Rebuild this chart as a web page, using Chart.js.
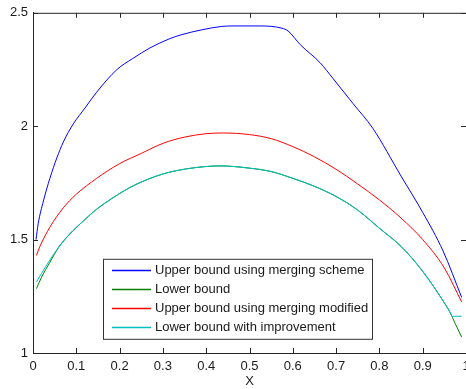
<!DOCTYPE html>
<html>
<head>
<meta charset="utf-8">
<script src="https://cdn.jsdelivr.net/npm/chart.js@4.4.0/dist/chart.umd.min.js"></script>
<style>
  html, body { margin: 0; padding: 0; background: #fff; overflow: hidden; }
  #wrap { width: 466px; height: 389px; overflow: hidden; }
</style>
</head>
<body>
<div id="wrap"><canvas id="boundsChart" width="480" height="389"></canvas></div>
<script>
// valores
const seriesNames = ['Upper bound using merging scheme', 'Lower bound',
    'Upper bound using merging modified', 'Lower bound with improvement'];
const seriesColors = ['#0000ff', '#008000', '#ff0000', '#00bfbf'];

const upperX = [0.007, 0.012, 0.024, 0.039, 0.055, 0.07, 0.093, 0.12, 0.147, 0.194, 0.23, 0.27, 0.316, 0.344, 0.39, 0.436, 0.462, 0.524, 0.575, 0.589, 0.617, 0.663, 0.693, 0.739, 0.785, 0.85, 0.9, 0.947, 0.99];
const upperY = [1.50, 1.57, 1.67, 1.77, 1.86, 1.93, 2.01, 2.08, 2.15, 2.25, 2.298, 2.345, 2.386, 2.404, 2.425, 2.44, 2.442, 2.442, 2.432, 2.42, 2.36, 2.28, 2.21, 2.10, 1.99, 1.78, 1.62, 1.45, 1.245];

const lowerX = [0.008, 0.02, 0.039, 0.06, 0.085, 0.115, 0.147, 0.185, 0.224, 0.26, 0.301, 0.355, 0.432, 0.5, 0.55, 0.6, 0.65, 0.7, 0.75, 0.8, 0.85, 0.9, 0.947, 0.963, 0.975, 0.99];
const lowerY = [1.284, 1.335, 1.40, 1.468, 1.525, 1.58, 1.634, 1.685, 1.73, 1.762, 1.79, 1.812, 1.825, 1.815, 1.80, 1.77, 1.735, 1.69, 1.63, 1.55, 1.47, 1.36, 1.23, 1.18, 1.13, 1.07];

const modifiedX = [0.008, 0.016, 0.039, 0.07, 0.1, 0.147, 0.2, 0.25, 0.301, 0.35, 0.4, 0.44, 0.5, 0.55, 0.6, 0.65, 0.7, 0.75, 0.8, 0.85, 0.9, 0.95, 0.99];
const modifiedY = [1.43, 1.47, 1.555, 1.64, 1.70, 1.77, 1.835, 1.88, 1.925, 1.952, 1.967, 1.97, 1.963, 1.945, 1.91, 1.865, 1.81, 1.745, 1.675, 1.595, 1.50, 1.375, 1.225];

const improvedX = [0.008, 0.02, 0.039, 0.06, 0.085, 0.115, 0.147, 0.185, 0.224, 0.26, 0.301, 0.355, 0.432, 0.5, 0.55, 0.6, 0.65, 0.7, 0.75, 0.8, 0.85, 0.9, 0.947, 0.963, 0.968, 0.99];
const improvedY = [1.313, 1.352, 1.41, 1.468, 1.525, 1.58, 1.634, 1.685, 1.73, 1.762, 1.79, 1.812, 1.825, 1.815, 1.80, 1.77, 1.735, 1.69, 1.63, 1.55, 1.47, 1.36, 1.23, 1.18, 1.162, 1.162];

const xTicks = [0, 0.1, 0.2, 0.3, 0.4, 0.5, 0.6, 0.7, 0.8, 0.9, 1];
const yTicks = [1, 1.5, 2, 2.5];

const toPoints = (xs, ys) => xs.map((x, i) => ({ x: x, y: ys[i] }));
const allSeries = [[upperX, upperY], [lowerX, lowerY], [modifiedX, modifiedY], [improvedX, improvedY]];

const FONT = 'Arial, "Liberation Sans", sans-serif';

// ejes estilo matlab: caja arriba, ticks hacia dentro y leyenda dentro del area
const matlabAxes = {
    id: 'matlabAxes',
    afterDraw(chart) {
        const ctx = chart.ctx;
        const a = chart.chartArea;
        const xs = chart.scales.x, ys = chart.scales.y;
        ctx.save();
        ctx.strokeStyle = '#262626';
        ctx.lineWidth = 1;
        ctx.beginPath();
        ctx.moveTo(a.left, a.top + 0.5); ctx.lineTo(a.right, a.top + 0.5);
        xTicks.forEach(v => {
            const px = Math.round(xs.getPixelForValue(v)) + 0.5;
            ctx.moveTo(px, a.bottom); ctx.lineTo(px, a.bottom - 5);
            ctx.moveTo(px, a.top); ctx.lineTo(px, a.top + 5);
        });
        yTicks.forEach(v => {
            const py = Math.round(ys.getPixelForValue(v)) + 0.5;
            ctx.moveTo(a.left, py); ctx.lineTo(a.left + 5, py);
            ctx.moveTo(a.right, py); ctx.lineTo(a.right - 5, py);
        });
        ctx.stroke();

        // leyenda
        const boxL = a.left + 70, boxT = a.top + 246, boxW = 269, boxH = 80;
        ctx.fillStyle = '#fff';
        ctx.fillRect(boxL, boxT, boxW, boxH);
        ctx.strokeStyle = '#333';
        ctx.strokeRect(boxL + 0.5, boxT + 0.5, boxW, boxH);
        ctx.font = '13px ' + FONT;
        ctx.textBaseline = 'middle';
        seriesNames.forEach((name, i) => {
            const y = Math.round(boxT + 11 + i * 19.2) + 0.5;
            ctx.strokeStyle = seriesColors[i];
            ctx.lineWidth = 1.5;
            ctx.beginPath();
            ctx.moveTo(boxL + 9, y); ctx.lineTo(boxL + 48, y);
            ctx.stroke();
            ctx.fillStyle = '#1a1a1a';
            ctx.fillText(name, boxL + 52, y);
        });
        ctx.restore();
    }
};

const ctx = document.getElementById('boundsChart').getContext('2d');
new Chart(ctx, {
    type: 'scatter',
    data: {
        datasets: allSeries.map((s, i) => ({
            label: seriesNames[i],
            data: toPoints(s[0], s[1]),
            showLine: true,
            borderColor: seriesColors[i],
            backgroundColor: seriesColors[i],
            borderWidth: 1,
            pointRadius: 0,
            cubicInterpolationMode: 'monotone',
            order: 10 - i
        }))
    },
    options: {
        responsive: false,
        animation: false,
        devicePixelRatio: 1,
        layout: { padding: { left: 0, right: 14, top: 11, bottom: 0 } },
        plugins: { legend: { display: false }, tooltip: { enabled: false } },
        scales: {
            x: {
                type: 'linear', min: 0, max: 1,
                afterBuildTicks: s => { s.ticks = xTicks.map(v => ({ value: v })); },
                afterFit: s => { s.height = 36; },
                grid: { display: false, drawTicks: false },
                border: { display: true, color: '#262626', width: 1 },
                ticks: { color: '#1a1a1a', padding: 6, maxRotation: 0, autoSkip: false,
                    font: { family: FONT, size: 13 }, callback: v => String(Math.round(v * 10) / 10) },
                title: { display: true, text: 'X', color: '#1a1a1a', padding: 0,
                    font: { family: FONT, size: 13 } }
            },
            y: {
                type: 'linear', min: 1, max: 2.5,
                afterBuildTicks: s => { s.ticks = yTicks.map(v => ({ value: v })); },
                afterFit: s => { s.width = 33; },
                grid: { display: false, drawTicks: false },
                border: { display: true, color: '#262626', width: 1 },
                ticks: { color: '#1a1a1a', padding: 5, font: { family: FONT, size: 13 },
                    callback: v => String(v) }
            }
        }
    },
    plugins: [matlabAxes]
});
</script>
</body>
</html>
